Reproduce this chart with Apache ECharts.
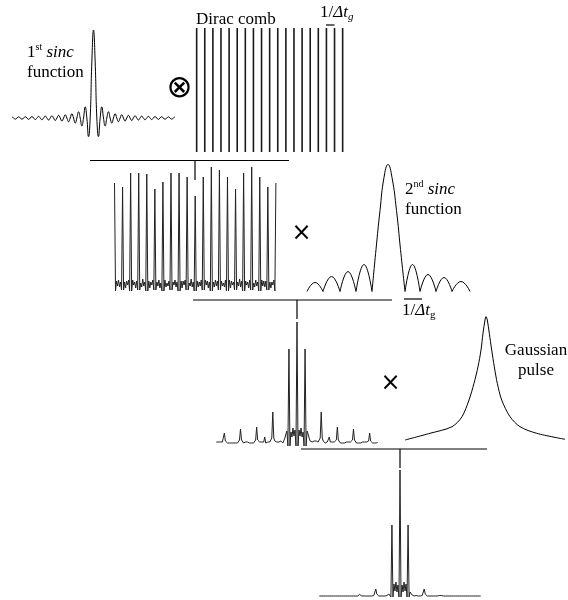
<!DOCTYPE html>
<html><head><meta charset="utf-8">
<script src="https://cdn.jsdelivr.net/npm/echarts@6/dist/echarts.min.js"></script>
<style>html,body{margin:0;padding:0;background:#fff}#c{width:568px;height:600px}</style>
</head><body><div id="c"></div>
<script>
// ---- data ----
// 1st sinc: samples every half zero-spacing, from left edge to right edge (centre = main lobe)
const sinc1Values = [1.3,0,-1.3,0,1.4,0,-1.5,0,1.5,0,-1.6,0,1.7,0,-1.8,0,1.9,0,-2.0,0,2.2,0,-2.3,0,2.5,0,-2.8,0,3.0,0,-3.4,0,3.7,0,-4.2,0,4.9,0,-5.8,0,7.1,0,-9.1,0,12.7,0,-21.2,0,63.7,
  100,
  63.7,0,-21.2,0,12.7,0,-9.1,0,7.1,0,-5.8,0,4.9,0,-4.2,0,3.7,0,-3.4,0,3.0,0,-2.8,0,2.5,0,-2.3,0,2.2,0,-2.0,0,1.9,0,-1.8,0,1.7,0,-1.6,0,1.5,0,-1.5,0,1.4,0,-1.3,0,1.3];
// Dirac comb: 19 equal teeth
const combValues = [1,1,1,1,1,1,1,1,1,1,1,1,1,1,1,1,1,1,1];
// periodic sinc (1st sinc convolved with comb): 21 peak heights and 7 samples between each pair of peaks
const periodicPeaks = [101,97,111,111,110,95,102,111,111,107,88,107,117,114,107,95,111,117,107,97,101];
const periodicGaps = [
 -7,3,-2,4,-3,2,-6,  -6,2,-4,3,-1,4,-7,  -7,4,-1,2,-4,3,-6,  -6,1,-3,5,-2,2,-7,
 -7,3,-4,2,-1,4,-6,  -6,2,-2,4,-4,1,-7,  -7,4,-3,1,-2,3,-6,  -6,2,-1,4,-3,2,-7,
 -7,3,-4,3,-1,4,-6,  -6,1,-2,5,-3,2,-7,  -7,3,-3,2,-2,4,-6,  -6,4,-1,3,-4,2,-7,
 -7,2,-3,4,-2,3,-6,  -6,3,-2,1,-3,4,-7,  -7,4,-4,3,-1,2,-6,  -6,2,-2,5,-3,3,-7,
 -7,3,-1,2,-4,4,-6,  -6,1,-3,4,-2,2,-7,  -7,4,-2,3,-3,3,-6,  -6,2,-4,2,-1,4,-7];
// 2nd sinc (magnitude): lobe zeros and lobe tops; null separates lobes
const sinc2X = [-81,-73,-65,null,-65,-56.5,-48,null,-48,-40,-32,null,-32,-24,-16,null,
  -16,-12,-8,-4,0,4,8.5,12.5,17,null,
  17,24.5,32,null,32,40,48,null,48,56,64,null,64,73,82];
const sinc2Y = [0,9,0,null,0,15,0,null,0,20,0,null,0,27,0,null,
  0,42,81,114,127,114,81,42,0,null,
  0,27,0,null,0,17,0,null,0,14,0,null,0,10,0];
// product of periodic sinc and 2nd sinc
const product1Peaks = [1,10,1,14,1,16,6,31,2,94,121,94,2,31,6,16,1,14,1,10,1];
const product1Gaps = [
 0,1,0,1,0,1,2,   2,1,0,1,0,1,0,   0,1,0,1,0,1,3,   3,1,0,1,1,0,1,
 0,1,0,1,0,1,3,   3,1,1,0,1,0,1,   0,1,1,0,1,2,5,   5,2,1,1,2,1,2,
 1,0,2,5,9,12,-3, -3,11,6,15,7,13,-3, -3,13,7,15,6,11,-3, -3,12,9,5,2,0,1,
 2,1,2,1,1,2,5,   5,2,1,0,1,1,0,   1,0,1,0,1,1,3,   3,1,0,1,0,1,0,
 1,0,1,0,1,1,3,   3,1,0,1,0,1,0,   1,0,1,0,1,0,2,   2,1,0,1,0,1,0];
// Gaussian pulse
const pulseX = [-81,-56,-34,-24,-17,-12,-8,-5,-3,-1,0,1.3,3.3,5.7,8.3,11.3,15.7,24,34,50.7,79];
const pulseY = [5,11.7,18.3,28.3,45,61.7,78.3,95,111.7,125,128.3,125,111.7,95,78.3,61.7,45,28.3,18.3,11.7,5.7];
// final result
const resultPeaks = [0,0,0,0,0,1.5,0,7,0.5,71,126,71,0.5,7,0,1.5,0,0,0,0,0];
const resultGaps = [
 0,0,0,0,0,0,0,  0,0,0,0,0,0,0,  0,0,0,0,0,0,0,  0,0,0,0,0,0,0,
 0,0,0,0,0,0,0.5, 0.5,0,0,0,0,0,0, 0,0,0,0,0,0.5,2, 2,0.5,0,0,0,0,0,
 0,0,0.5,1,2,4,-1, -1,12,5,14,4,11,-1, -1,11,4,14,5,12,-1, -1,4,2,1,0.5,0,0,
 0,0,0,0,0,0.5,2, 2,0.5,0,0,0,0,0, 0,0,0,0,0,0,0.5, 0.5,0,0,0,0,0,0,
 0,0,0,0,0,0,0,  0,0,0,0,0,0,0,  0,0,0,0,0,0,0,  0,0,0,0,0,0,0];

// ---- build ----
function buildPeaks(peaks, gaps) {
  const pts = []; let i = 0;
  peaks.forEach((p, k) => {
    pts.push([i++, p]);
    if (k < peaks.length - 1) for (let j = 0; j < 7; j++) pts.push([i++, gaps[k * 7 + j]]);
  });
  return pts;
}
const sinc1Data = sinc1Values.map((v, i) => [i - 49, v]);
const sinc2Data = sinc2X.map((x, i) => x === null ? ['-', '-'] : [x, sinc2Y[i]]);
const pulseData = pulseX.map((x, i) => [x, pulseY[i]]);

const grids = [
  {left: 12, top: 30, width: 163, height: 110},        // 1st sinc
  {left: 192.6, top: 28, width: 154.1, height: 124},   // comb
  {left: 114.5, top: 160, width: 161.4, height: 140},  // periodic sinc
  {left: 307, top: 161.5, width: 163, height: 140},    // 2nd sinc
  {left: 216.3, top: 315, width: 161.4, height: 135},  // product
  {left: 405, top: 310, width: 160, height: 135},      // pulse
  {left: 319.3, top: 462, width: 161.4, height: 136}   // result
];
const xAxes = [
  {min: -49, max: 49}, null, {min: 0, max: 160}, {min: -81, max: 82},
  {min: 0, max: 160}, {min: -81, max: 79}, {min: 0, max: 160}
].map((a, i) => a ? Object.assign({type: 'value', gridIndex: i, show: false}, a)
  : {type: 'category', gridIndex: i, show: false, data: combValues.map((_, j) => j)});
const yAxes = [
  [-25, 100], [0, 1], [-16, 124], [-10, 130], [-7, 128], [0, 135], [-2, 134]
].map((r, i) => ({type: 'value', gridIndex: i, show: false, min: r[0], max: r[1]}));

function lineSeries(idx, data, smooth, color) {
  return {type: 'line', xAxisIndex: idx, yAxisIndex: idx, data: data, showSymbol: false,
    smooth: smooth || false, lineStyle: {color: color || '#000', width: 1}, clip: false, silent: true};
}
const series = [
  lineSeries(0, sinc1Data, 0.5),
  {type: 'bar', xAxisIndex: 1, yAxisIndex: 1, data: combValues, barWidth: 1.6,
    itemStyle: {color: '#1a1a1a'}, silent: true},
  lineSeries(2, buildPeaks(periodicPeaks, periodicGaps), false, '#222'),
  lineSeries(3, sinc2Data, 0.5),
  lineSeries(4, buildPeaks(product1Peaks, product1Gaps), false, '#222'),
  lineSeries(5, pulseData, 0.3),
  lineSeries(6, buildPeaks(resultPeaks, resultGaps), false, '#222')
];

const serif = 'Liberation Serif';
const rich = {
  n: {fontFamily: serif, fontSize: 17, lineHeight: 20, fill: '#000'},
  i: {fontFamily: serif, fontSize: 17, fontStyle: 'italic', lineHeight: 20, fill: '#000'},
  sup: {fontFamily: serif, fontSize: 10, lineHeight: 12, verticalAlign: 'top', fill: '#000'},
  sub: {fontFamily: serif, fontSize: 11, fontStyle: 'italic', lineHeight: 12, verticalAlign: 'bottom', fill: '#000'},
  subu: {fontFamily: serif, fontSize: 11, lineHeight: 12, verticalAlign: 'bottom', fill: '#000'}
};
function txt(x, y, text, align) {
  return {type: 'text', x: x, y: y, silent: true,
    style: {text: text, rich: rich, fontFamily: serif, fontSize: 17, lineHeight: 20, fill: '#000',
      align: align || 'left', textAlign: align || 'left', verticalAlign: 'top', textVerticalAlign: 'top'}};
}
function seg(x1, y1, x2, y2) {
  return {type: 'line', silent: true, shape: {x1: x1, y1: y1, x2: x2, y2: y2},
    style: {stroke: '#000', lineWidth: 1.2}};
}
function sym(x, y, ch, size) {
  return {type: 'text', x: x, y: y, silent: true,
    style: {text: ch, fontFamily: 'DejaVu Sans', fontSize: size, fill: '#000',
      align: 'center', textAlign: 'center', verticalAlign: 'middle', textVerticalAlign: 'middle'}};
}
const graphic = [
  txt(27, 42.5, '{n|1}{sup|st} {i|sinc}\n{n|function}'),
  txt(196, 10, '{n|Dirac comb}'),
  txt(320, 2.5, '{n|1/}{i|Δt}{sub|g}'),
  txt(405, 179.2, '{n|2}{sup|nd} {i|sinc}\n{n|function}'),
  txt(536, 340.2, '{n|Gaussian}\n{n|pulse}', 'center'),
  txt(402, 301, '{n|1/}{i|Δt}{subu|g}'),
  seg(326, 25, 334.5, 25),
  seg(90, 160.5, 289, 160.5), seg(195, 160.5, 195, 180),
  seg(193, 300, 392, 300), seg(297, 300, 297, 319), seg(404, 299, 422, 299),
  seg(301, 449, 487, 449), seg(400, 449, 400, 468),
  sym(179.5, 89, '⊗', 31),
  sym(301.5, 233.5, '×', 24),
  sym(390.5, 384, '×', 24)
];

const chart = echarts.init(document.getElementById('c'), null, {renderer: 'canvas'});
chart.setOption({
  animation: false,
  backgroundColor: '#fff',
  grid: grids,
  xAxis: xAxes,
  yAxis: yAxes,
  series: series,
  graphic: graphic
});
</script>
</body></html>
